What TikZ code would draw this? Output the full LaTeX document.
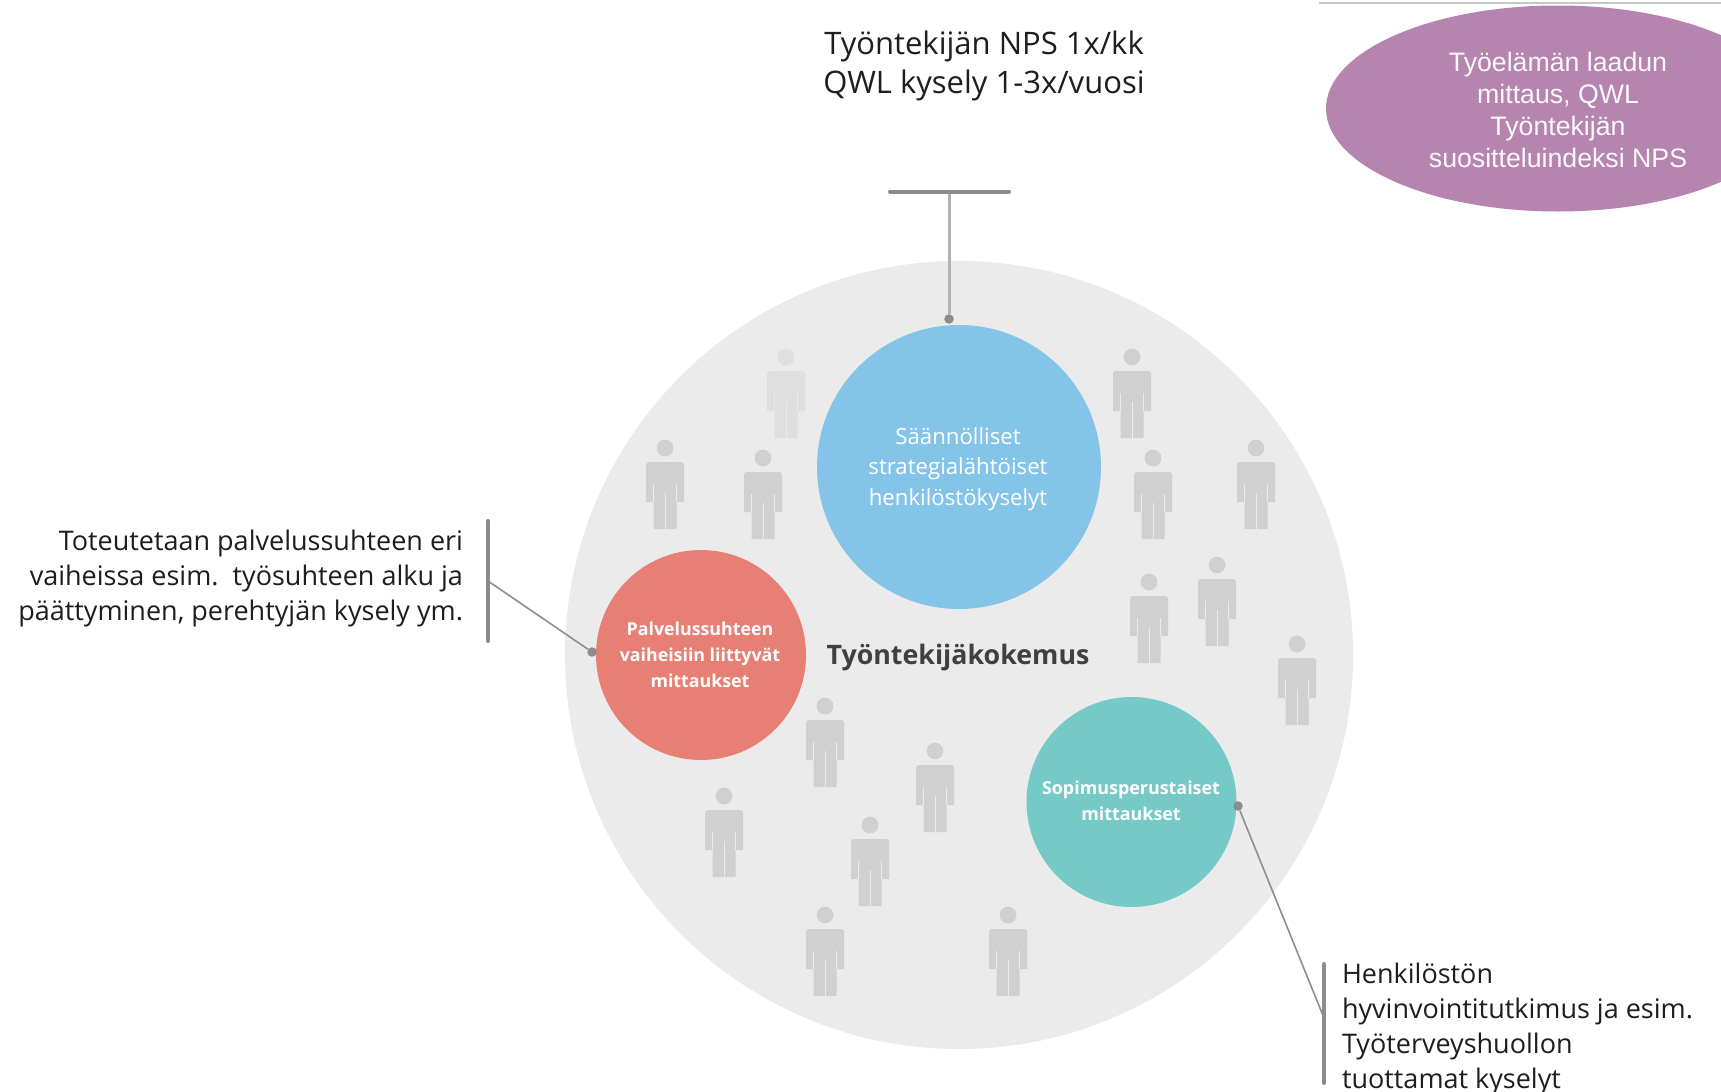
\documentclass[tikz,border=0pt]{standalone}
\usepackage{fontspec}
\setmainfont{Open Sans}
\newfontfamily\arialfont{Liberation Sans}
\usetikzlibrary{shapes.geometric}
\definecolor{bgdisc}{HTML}{EBEBEB}
\definecolor{persona}{HTML}{D0D0D0}
\definecolor{personb}{HTML}{DFDFDF}
\definecolor{bluec}{HTML}{83C4E8}
\definecolor{redc}{HTML}{E87F74}
\definecolor{tealc}{HTML}{75CAC8}
\definecolor{purplec}{HTML}{B585B0}
\definecolor{leadbar}{HTML}{8C8C8C}
\definecolor{leadline}{HTML}{8E8E8E}
\definecolor{txt}{HTML}{1E1E1E}
\tikzset{
  disc/.style={circle,inner sep=0pt,outer sep=0pt,minimum size=#1},
  label text/.style={inner sep=0pt,outer sep=0pt,text=txt,font=\fontsize{27}{35}\selectfont},
  white label/.style={inner sep=0pt,outer sep=0pt,text=white,align=center},
  bar/.style={draw=leadbar,line width=4pt,line cap=round},
  lead/.style={draw=leadline,line width=1.6pt},
  leaddot/.style={circle,fill=leadbar,inner sep=0pt,minimum size=9.5pt},
  pics/person/.style={code={
    \fill[#1] (0,0) circle (8.4);
    \fill[#1] (-19,54) -- (-19,17) .. controls (-19,15) and (-18,14) .. (-16,14) -- (16,14) .. controls (18,14) and (19,15) .. (19,17) -- (19,54) -- (11.5,54) -- (11.5,81) -- (-11.5,81) -- (-11.5,54) -- cycle;
    \draw[bgdisc,line width=0.9pt] (-11.5,36) -- (-11.5,54) (11.5,36) -- (11.5,54) (0,45) -- (0,81);
  }}
}
\begin{document}
\begin{tikzpicture}[x=1pt,y=-1pt]
\useasboundingbox (0,0) rectangle (1721,1092);
\clip (0,0) rectangle (1721,1092);
\fill[white] (0,0) rectangle (1721,1092);
\draw[black!22,line width=1.4pt] (1319,3) -- (1721,3);
\node[disc=788pt,fill=bgdisc] (disc) at (959,655) {};
\foreach \px/\py/\pc in {786/357/personb,1132/357/persona,665/448/persona,763/458/persona,1256/448/persona,1153/458/persona,1217/565/persona,1149/582/persona,1297/644/persona,825/706/persona,935/751/persona,724/796/persona,870/825/persona,825/915/persona,1008/915/persona}
  \pic at (\px,\py) {person=\pc};
\node[disc=284pt,fill=bluec] (blue) at (959,467) {};
\node[disc=210pt,fill=redc] (red) at (701,655) {};
\node[disc=210pt,fill=tealc] (teal) at (1131.5,802) {};
\node[white label,font=\fontsize{22.2}{30.5}\selectfont] (bluet) at (958,469) {Säännölliset\\strategialähtöiset\\henkilöstökyselyt};
\node[white label,font=\fontsize{17.8}{26}\bfseries\selectfont] (redt) at (700,655) {Palvelussuhteen\\vaiheisiin liittyvät\\mittaukset};
\node[white label,font=\fontsize{17.9}{26}\bfseries\selectfont] (tealt) at (1131,801) {Sopimusperustaiset\\mittaukset};
\node[inner sep=0pt,text=black!75,font=\fontsize{26.8}{30}\bfseries\selectfont] (center) at (958,658) {Työntekijäkokemus};
\node[ellipse,fill=purplec,inner sep=0pt,minimum width=464pt,minimum height=206pt] (purple) at (1558,108.5) {};
\node[white label,text=white!94!purplec,font=\arialfont\fontsize{26.7}{32}\selectfont] (purplet) at (1558,110) {Työelämän laadun\\mittaus, QWL\\Työntekijän\\suositteluindeksi NPS};
\node[label text,align=center,font=\fontsize{31}{38.5}\selectfont] (toptext) at (984,66) {Työntekijän NPS 1x/kk\\QWL kysely 1-3x/vuosi};
\node[label text,align=right,anchor=east] (lefttext) at (463,578) {Toteutetaan palvelussuhteen eri\\vaiheissa esim.\ \ työsuhteen alku ja\\päättyminen, perehtyjän kysely ym.};
\node[label text,align=left,anchor=west] (righttext) at (1342,1029) {Henkilöstön\\hyvinvointitutkimus ja esim.\\Työterveyshuollon\\tuottamat kyselyt};
\coordinate (barTl) at (890,191.5);
\coordinate (barTr) at (1009,191.5);
\coordinate (barTm) at (949,191.5);
\coordinate (barLt) at (488,521);
\coordinate (barLb) at (488,641);
\coordinate (barLm) at (488,581);
\coordinate (barRt) at (1324,964);
\coordinate (barRb) at (1324,1083);
\coordinate (barRm) at (1324,1018);
\node[leaddot] (dotT) at (949,319) {};
\node[leaddot] (dotL) at (592,652) {};
\node[leaddot] (dotR) at (1238,806) {};
\draw[draw=black!30,line width=3pt] (barTm) -- (dotT);
\draw[lead] (barLm) -- (dotL);
\draw[lead] (barRm) -- (dotR);
\draw[bar] (barTl) -- (barTr);
\draw[bar] (barLt) -- (barLb);
\draw[bar] (barRt) -- (barRb);
\end{tikzpicture}
\end{document}
